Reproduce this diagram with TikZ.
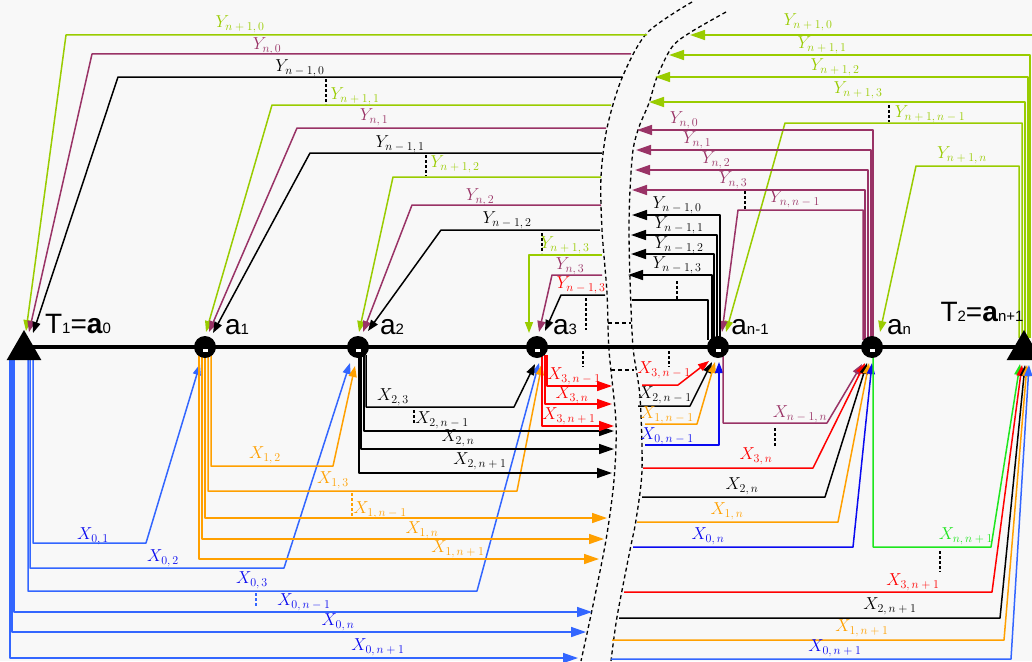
\documentclass[tikz,border=0pt]{standalone}
\usepackage{fontspec}
\setsansfont{Liberation Sans}
\usetikzlibrary{arrows.meta,calc,shapes.geometric}
\definecolor{cG}{RGB}{153,204,0}
\definecolor{cP}{RGB}{153,51,102}
\definecolor{cB}{RGB}{51,102,255}
\definecolor{cBd}{RGB}{10,10,240}
\definecolor{cO}{RGB}{255,160,0}
\definecolor{cR}{RGB}{255,0,0}
\definecolor{cLG}{RGB}{30,230,30}
\definecolor{bgc}{RGB}{248,248,248}
\pgfdeclarelayer{bgfill}
\pgfdeclarelayer{lines}
\pgfsetlayers{bgfill,lines,main}
\newcommand\smallsub[1]{{\fontsize{15}{15}\selectfont #1}}
\newcommand\elab[2]{$#1_{\hbox{\fontsize{12.5}{12.5}\selectfont$#2$}}$}
\begin{document}
\begin{tikzpicture}[x=1pt,y=-1pt,
  wire/.style={line width=1.5pt,line join=round},
  aS/.style={-{Triangle[length=11pt,width=8pt]}},
  aL/.style={-{Triangle[length=15pt,width=10pt]}},
  cutline/.style={black,line width=1.3pt,dash pattern=on 4pt off 3pt},
  dtick/.style={line width=1.2pt,dash pattern=on 3pt off 2pt},
  el/.style={inner sep=0pt,font=\fontsize{17}{17}\selectfont},
  nl/.style={inner sep=0pt,font=\sffamily\fontsize{28}{28}\selectfont},
  dot/.style={circle,fill=black,minimum size=22pt,inner sep=0pt,
    path picture={\fill[white] ([xshift=-2.5pt,yshift=-2pt]path picture bounding box.center) rectangle ([xshift=2.5pt,yshift=-5pt]path picture bounding box.center);}},
  tri/.style={regular polygon,regular polygon sides=3,fill=black,minimum size=40pt,inner sep=0pt}]
\useasboundingbox (0,0) rectangle (1032,661);
\begin{pgfonlayer}{bgfill}
\fill[bgc] (0,0) rectangle (1032,661);
\end{pgfonlayer}

% ---------- nodes ----------
\node[tri] (T1) at (24,350) {};
\node[tri] (T2) at (1024,350) {};
\node[dot] (a1) at (205,347) {};
\node[dot] (a2) at (358,347) {};
\node[dot] (a3) at (537,347) {};
\node[dot] (an1) at (718,347) {};
\node[dot] (an) at (872,347) {};

\node[nl] (lT1) at (78,324) {T\smallsub{1}=\textbf{a}\smallsub{0}};
\node[nl] (la1) at (237,327) {a\smallsub{1}};
\node[nl] (la2) at (392,327) {a\smallsub{2}};
\node[nl] (la3) at (565,327) {a\smallsub{3}};
\node[nl] (lan1) at (750,327) {a\smallsub{n-1}};
\node[nl] (lan) at (899,327) {a\smallsub{n}};
\node[nl] (lT2) at (982,312) {T\smallsub{2}=\textbf{a}\smallsub{n+1}};

\begin{pgfonlayer}{lines}
% axis
\draw[line width=4.5pt] (T1.center |- a1) -- (T2.center |- a1);

% ---------- cut ----------
\draw[cutline] plot[smooth] coordinates {(692,2) (647,33) (622,78) (607,128) (601,177) (602,230) (607,293) (609,350) (616,423) (614,480) (606,540) (592,610) (581,661)};
\draw[cutline] plot[smooth] coordinates {(726,12) (691,32) (672,47) (657,77) (649,103) (639,127) (633,150) (630,190) (629,230) (630,280) (633,347) (640,397) (642,470) (636,520) (630,550) (617,617) (611,661)};
\draw[cutline] (608,323) -- (631,323);
\draw[cutline] (611,370) -- (634,370);

% ---------- Y lines, left of cut ----------
\draw[wire,cG,aS] (647,35) -- (66,35) -- ($(T1)+(2,-19)$);
\draw[wire,cP,aS] (631,54) -- (92,54) -- ($(T1)+(5,-18)$);
\draw[wire,black,aS] (622,77) -- (118,77) -- ($(T1)+(9,-17)$);
\draw[wire,cG,aS] (611,105) -- (272,105) -- ($(a1)+(1,-15)$);
\draw[wire,cP,aS] (606,128) -- (297,128) -- ($(a1)+(4,-15)$);
\draw[wire,black,aS] (602,153) -- (310,153) -- ($(a1)+(8,-14)$);
\draw[wire,cG,aS] (601,177) -- (393,177) -- ($(a2)+(1,-15)$);
\draw[wire,cP,aS] (601,205) -- (412,205) -- ($(a2)+(5,-15)$);
\draw[wire,black,aS] (600,230) -- (441,230) -- ($(a2)+(10,-16)$);
\draw[wire,cG,aS] (602,255) -- (529,255) -- ($(a3)+(-8,-14)$);
\draw[wire,cP,aS] (602,275) -- (552,275) -- ($(a3)+(2,-15)$);
\draw[wire,black,aS] (605,295) -- (561,295) -- ($(a3)+(8,-16)$);

% ---------- Y lines, right of cut ----------
\draw[wire,cG,aL] ($(T2)+(9,-12)$) -- (1033,35) -- (690,35);
\draw[wire,cG,aL] ($(T2)+(6,-12)$) -- (1030,55) -- (669,55);
\draw[wire,cG,aL] ($(T2)+(4,-12)$) -- (1028,77) -- (655,77);
\draw[wire,cG,aL] ($(T2)+(1,-12)$) -- (1025,102) -- (649,102);
\draw[wire,cG,aS] ($(T2)+(-2,-12)$) -- (1022,123) -- (785,123) -- ($(an1)+(8,-15)$);
\draw[wire,cG,aS] ($(T2)+(-5,-12)$) -- (1019,166) -- (916,166) -- ($(an)+(8,-15)$);

\draw[wire,cP,aL] ($(an)+(1,-7)$) -- (873,130) -- (637,130);
\draw[wire,cP,aL] ($(an)+(-1,-7)$) -- (871,150) -- (636,150);
\draw[wire,cP,aL] ($(an)+(-4,-7)$) -- (868,170) -- (635,170);
\draw[wire,cP,aL] ($(an)+(-7,-7)$) -- (865,190) -- (632,190);
\draw[wire,cP,aS] ($(an)+(-9,-7)$) -- (863,210) -- (738,210) -- ($(an1)+(4,-15)$);

\draw[wire,black,aL] ($(an1)+(2,-7)$) -- (720,215) -- (632,215);
\draw[wire,black,aL] ($(an1)+(-1,-7)$) -- (717,235) -- (631,235);
\draw[wire,black,aL] ($(an1)+(-4,-7)$) -- (714,254) -- (631,254);
\draw[wire,black,aL] ($(an1)+(-6,-7)$) -- (712,275) -- (628,275);
\draw[wire,black] ($(an1)+(-10,-7)$) -- (708,300) -- (632,300);

% ---------- X lines, left of cut ----------
\draw[wire,cB,aS] ($(T1)+(9,8)$) -- (33,543) -- (146,543) -- ($(a1)+(-5,17)$);
\draw[wire,cB,aS] ($(T1)+(6,8)$) -- (30,568) -- (284,568) -- ($(a2)+(-8,16)$);
\draw[wire,cB,aS] ($(T1)+(4,8)$) -- (28,591) -- (477,591) -- ($(a3)+(2,16)$);
\draw[wire,cB,aL] ($(T1)+(-10,8)$) -- (14,612) -- (592,612);
\draw[wire,cB,aL] ($(T1)+(-12,8)$) -- (12,632) -- (586,632);
\draw[wire,cB,aL] ($(T1)+(-14,8)$) -- (10,658) -- (578,658);

\draw[wire,cO,aS] ($(a1)+(6,8)$) -- (211,466) -- (333,466) -- ($(a2)+(-3,19)$);
\draw[wire,cO,aS] ($(a1)+(3,8)$) -- (208,491) -- (517,491) -- ($(a3)+(5,17)$);
\draw[wire,cO,aL] ($(a1)+(0,8)$) -- (205,518) -- (607,518);
\draw[wire,cO,aL] ($(a1)+(-3,8)$) -- (202,539) -- (604,539);
\draw[wire,cO,aL] ($(a1)+(-6,8)$) -- (199,559) -- (599,559);

\draw[wire,black,aS] ($(a2)+(8,8)$) -- (366,407) -- (514,407) -- ($(a3)+(-2,17)$);
\draw[wire,black,aL] ($(a2)+(6,8)$) -- (364,431) -- (614,431);
\draw[wire,black,aL] ($(a2)+(3,8)$) -- (361,449) -- (614,449);
\draw[wire,black,aL] ($(a2)+(1,8)$) -- (359,473) -- (612,473);

\draw[wire,cR,aL] ($(a3)+(10,8)$) -- (547,386) -- (612,386);
\draw[wire,cR,aL] ($(a3)+(8,8)$) -- (545,404) -- (612,404);
\draw[wire,cR,aL] ($(a3)+(5,8)$) -- (542,426) -- (614,426);

% ---------- X lines, right of cut ----------
\draw[wire,cR,aS] (642,385) -- (678,385) -- ($(an1)+(-9,14)$);
\draw[wire,black,aS] (638,406) -- (690,406) -- ($(an1)+(-6,15)$);
\draw[wire,cO,aS] (645,424) -- (697,424) -- ($(an1)+(-3,15)$);
\draw[wire,cBd,aS] (645,445) -- (719,445) -- ($(an1)+(1,15)$);

\draw[wire,cP,aS] ($(an1)+(5,8)$) -- (723,423) -- (827,423) -- ($(an)+(-10,17)$);
\draw[wire,cR,aS] (643,468) -- (813,468) -- ($(an)+(-7,16)$);
\draw[wire,black,aS] (642,497) -- (825,497) -- ($(an)+(-5,16)$);
\draw[wire,cO,aS] (637,522) -- (838,522) -- ($(an)+(-3,16)$);
\draw[wire,cBd,aS] (633,547) -- (853,547) -- ($(an)+(0,16)$);

\draw[wire,cLG,aS] ($(an)+(1,8)$) -- (873,547) -- (991,547) -- ($(T2)+(-4,14)$);
\draw[wire,cR,aS] (624,592) -- (992,592) -- ($(T2)+(-2,15)$);
\draw[wire,black,aS] (619,618) -- (1000,618) -- ($(T2)+(1,15)$);
\draw[wire,cO,aS] (612,640) -- (1004,640) -- ($(T2)+(3,15)$);
\draw[wire,cB,aS] (611,659) -- (1011,659) -- ($(T2)+(5,15)$);

% ---------- dotted ticks ----------
\draw[dtick,black] (326,79) -- (326,104);
\draw[dtick,black] (426,155) -- (426,176);
\draw[dtick,black] (542,233) -- (542,253);
\draw[dtick,black] (586,298) -- (586,330);
\draw[dtick,black] (583,351) -- (583,367);
\draw[dtick,black] (669,351) -- (669,367);
\draw[dtick,black] (677,281) -- (677,299);
\draw[dtick,black] (745,191) -- (745,209);
\draw[dtick,black] (889,105) -- (889,122);
\draw[dtick,black] (775,428) -- (775,447);
\draw[dtick,black] (940,551) -- (940,572);
\draw[dtick,black] (414,410) -- (414,423);
\draw[dtick,cO] (352,493) -- (352,517);
\draw[dtick,cB] (256,593) -- (256,607);
\end{pgfonlayer}

% ---------- labels ----------
\node[el,text=cG] (y10) at (240,24) {\elab{Y}{n+1,0}};
\node[el,text=cP] (y20) at (267,46) {\elab{Y}{n,0}};
\node[el,text=black] (y30) at (300,68) {\elab{Y}{n-1,0}};
\node[el,text=cG] (y11) at (355,96) {\elab{Y}{n+1,1}};
\node[el,text=cP] (y21) at (374,117) {\elab{Y}{n,1}};
\node[el,text=black] (y31) at (400,144) {\elab{Y}{n-1,1}};
\node[el,text=cG] (y12) at (455,164) {\elab{Y}{n+1,2}};
\node[el,text=cP] (y22) at (480,197) {\elab{Y}{n,2}};
\node[el,text=black] (y32) at (507,220) {\elab{Y}{n-1,2}};
\node[el,text=cG] (y13) at (565,245) {\elab{Y}{n+1,3}};
\node[el,text=cP] (y23) at (570,266) {\elab{Y}{n,3}};
\node[el,text=cR] (y33) at (581,285) {\elab{Y}{n-1,3}};

\node[el,text=cG] (r10) at (808,22) {\elab{Y}{n+1,0}};
\node[el,text=cG] (r11) at (822,45) {\elab{Y}{n+1,1}};
\node[el,text=cG] (r12) at (835,67) {\elab{Y}{n+1,2}};
\node[el,text=cG] (r13) at (858,90) {\elab{Y}{n+1,3}};
\node[el,text=cG] (r1n1) at (930,114) {\elab{Y}{n+1,n-1}};
\node[el,text=cG] (r1n) at (962,155) {\elab{Y}{n+1,n}};
\node[el,text=cP] (r20) at (684,120) {\elab{Y}{n,0}};
\node[el,text=cP] (r21) at (697,140) {\elab{Y}{n,1}};
\node[el,text=cP] (r22) at (716,160) {\elab{Y}{n,2}};
\node[el,text=cP] (r23) at (733,180) {\elab{Y}{n,3}};
\node[el,text=cP] (r2n1) at (795,199) {\elab{Y}{n,n-1}};
\node[el,text=black] (r30) at (677,205) {\elab{Y}{n-1,0}};
\node[el,text=black] (r31) at (679,225) {\elab{Y}{n-1,1}};
\node[el,text=black] (r32) at (679,245) {\elab{Y}{n-1,2}};
\node[el,text=black] (r33) at (677,265) {\elab{Y}{n-1,3}};

\node[el,text=cBd] (x01) at (93,536) {\elab{X}{0,1}};
\node[el,text=cBd] (x02) at (163,558) {\elab{X}{0,2}};
\node[el,text=cBd] (x03) at (252,580) {\elab{X}{0,3}};
\node[el,text=cBd] (x0n1) at (304,602) {\elab{X}{0,n-1}};
\node[el,text=cBd] (x0n) at (338,622) {\elab{X}{0,n}};
\node[el,text=cBd] (x0n2) at (378,647) {\elab{X}{0,n+1}};
\node[el,text=cO] (x12) at (265,455) {\elab{X}{1,2}};
\node[el,text=cO] (x13) at (333,480) {\elab{X}{1,3}};
\node[el,text=cO] (x1n1) at (380,510) {\elab{X}{1,n-1}};
\node[el,text=cO] (x1n) at (422,530) {\elab{X}{1,n}};
\node[el,text=cO] (x1n2) at (458,549) {\elab{X}{1,n+1}};
\node[el,text=black] (x23) at (393,397) {\elab{X}{2,3}};
\node[el,text=black] (x2n1) at (442,420) {\elab{X}{2,n-1}};
\node[el,text=black] (x2n) at (458,438) {\elab{X}{2,n}};
\node[el,text=black] (x2n2) at (480,461) {\elab{X}{2,n+1}};
\node[el,text=cR] (x3n1) at (574,376) {\elab{X}{3,n-1}};
\node[el,text=cR] (x3n) at (572,395) {\elab{X}{3,n}};
\node[el,text=cR] (x3n2) at (569,416) {\elab{X}{3,n+1}};

\node[el,text=cR] (s3n1) at (664,370) {\elab{X}{3,n-1}};
\node[el,text=black] (s2n1) at (665,395) {\elab{X}{2,n-1}};
\node[el,text=cO] (s1n1) at (667,415) {\elab{X}{1,n-1}};
\node[el,text=cBd] (s0n1) at (667,436) {\elab{X}{0,n-1}};
\node[el,text=cP] (sn1n) at (800,414) {\elab{X}{n-1,n}};
\node[el,text=cR] (s3n) at (756,456) {\elab{X}{3,n}};
\node[el,text=black] (s2n) at (742,486) {\elab{X}{2,n}};
\node[el,text=cO] (s1n) at (727,511) {\elab{X}{1,n}};
\node[el,text=cBd] (s0n) at (708,536) {\elab{X}{0,n}};
\node[el,text=cLG] (snn2) at (966,536) {\elab{X}{n,n+1}};
\node[el,text=cR] (s3n2) at (913,582) {\elab{X}{3,n+1}};
\node[el,text=black] (s2n2) at (890,606) {\elab{X}{2,n+1}};
\node[el,text=cO] (s1n2) at (862,628) {\elab{X}{1,n+1}};
\node[el,text=cBd] (s0n2) at (835,648) {\elab{X}{0,n+1}};
\end{tikzpicture}
\end{document}
